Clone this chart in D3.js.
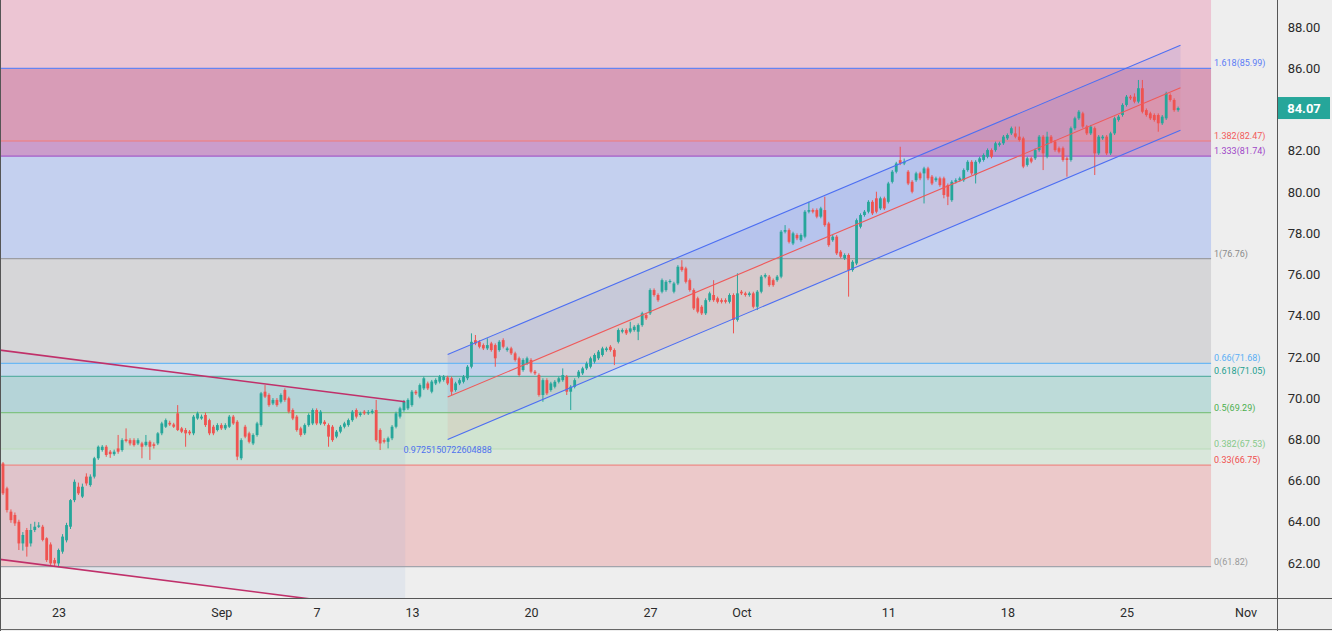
<!DOCTYPE html>
<html><head><meta charset="utf-8">
<script src="https://cdn.jsdelivr.net/npm/d3@7"></script>
<style>
html,body{margin:0;padding:0;background:#eeeeee;}
svg{display:block;font-family:Roboto,"Liberation Sans",sans-serif;}
</style></head>
<body><svg id="chart" width="1332" height="631"></svg>
<script>
// ---------------- DATA ----------------
const opens=[66.83,65.62,64.49,64.33,64.00,62.95,63.60,62.95,63.60,63.76,
63.76,63.20,62.90,62.14,61.98,62.55,63.10,63.76,65.05,65.70,
65.22,66.19,65.78,66.19,67.08,67.48,67.64,67.40,67.28,67.56,
67.48,68.00,67.96,67.96,67.80,67.80,67.72,67.88,67.76,67.80,
68.29,68.61,68.80,68.72,69.26,68.53,68.45,68.37,68.29,69.01,
69.01,69.18,68.93,68.61,68.45,68.69,68.53,68.61,69.10,68.85,
67.08,68.61,68.29,67.80,68.21,68.69,70.31,70.15,69.74,69.91,
69.82,70.39,69.99,69.42,69.10,68.53,68.29,68.69,68.77,69.42,
68.77,68.85,68.69,68.61,68.13,68.37,68.61,68.69,68.93,69.42,
69.18,69.34,69.26,69.30,69.42,68.45,67.96,67.88,68.05,68.61,
69.10,69.42,69.50,69.66,70.31,70.07,70.47,70.71,70.31,70.71,
70.80,70.88,71.00,70.96,70.39,70.71,70.79,70.96,71.52,72.81,
72.73,72.57,72.41,72.65,72.57,72.33,72.81,72.33,72.41,72.17,
71.93,71.36,71.68,71.85,71.28,71.12,70.15,70.87,70.39,70.55,
70.79,70.87,71.04,70.31,70.55,71.04,71.20,71.44,71.52,71.77,
71.93,72.09,72.33,72.49,72.33,72.73,73.22,73.30,73.22,73.30,
73.22,73.54,74.03,74.11,75.24,75.00,75.16,75.24,75.64,75.16,
75.56,76.37,76.29,75.72,75.24,74.84,74.43,74.11,74.75,75.00,
74.84,74.75,74.75,74.67,75.00,73.79,75.16,75.08,75.00,75.08,
74.43,75.16,75.89,75.89,75.72,75.72,75.89,78.07,78.15,77.50,
77.91,77.66,77.83,79.04,79.12,79.12,78.80,79.12,78.47,77.66,
77.83,77.10,76.78,76.94,76.21,76.53,78.31,78.88,79.04,79.52,
79.69,79.20,79.69,79.52,80.49,80.98,81.54,81.38,80.98,80.49,
80.57,80.90,80.90,81.14,80.74,80.57,80.66,80.66,80.33,79.60,
80.49,80.57,80.57,81.06,81.46,80.82,81.46,81.55,81.71,82.03,
82.03,82.28,82.36,82.60,82.84,82.84,82.68,82.60,81.31,81.63,
81.63,82.03,82.68,81.71,82.68,82.44,82.12,82.12,81.63,81.55,
83.09,83.57,83.81,83.17,82.84,83.09,81.87,82.60,82.68,81.87,
82.84,83.49,83.73,84.22,84.62,84.62,84.38,85.03,83.97,83.81,
83.73,83.73,83.33,83.57,84.70,84.46,83.97];
const highs=[66.90,65.70,64.60,64.45,64.10,63.50,63.70,63.90,64.00,63.98,
63.85,63.25,63.00,62.25,62.70,63.40,63.95,65.10,66.05,65.90,
65.85,66.35,66.30,67.15,67.70,67.72,67.72,67.48,67.50,68.21,
68.05,68.53,68.05,68.05,68.05,67.88,68.21,67.95,67.85,68.35,
68.85,69.01,68.90,68.80,69.66,68.60,68.55,68.45,69.18,69.34,
69.20,69.30,69.00,68.70,68.78,68.78,68.78,69.18,69.18,68.93,
68.05,68.70,68.37,68.29,68.85,70.30,70.63,70.23,70.00,70.00,
70.23,70.47,70.07,69.50,69.18,68.61,68.77,69.26,69.50,69.50,
69.42,68.93,68.77,68.69,68.45,68.69,68.85,69.01,69.42,69.50,
69.34,69.42,69.42,69.46,69.91,68.53,68.05,68.13,68.69,69.34,
69.58,69.91,69.99,70.39,70.39,70.71,71.04,70.80,70.88,70.96,
71.12,71.12,71.08,71.04,70.79,70.96,71.12,71.60,73.14,73.06,
72.81,72.65,72.90,72.73,72.65,72.81,72.90,72.49,72.49,72.25,
72.01,71.93,72.01,71.93,71.36,71.20,70.96,70.96,70.79,70.87,
71.04,71.44,71.12,70.63,70.96,71.36,71.52,71.77,72.01,72.17,
72.33,72.49,72.49,72.57,72.41,73.38,73.38,73.38,73.70,73.54,
73.62,74.19,74.11,75.32,75.32,75.08,75.80,75.72,75.76,75.64,
76.45,76.69,76.37,75.80,75.32,74.92,74.51,74.84,75.16,75.72,
74.92,74.84,74.84,75.08,75.08,76.05,75.24,75.16,75.16,75.16,
75.24,75.97,76.05,75.97,75.80,75.97,78.15,78.39,78.23,78.07,
77.99,77.99,79.12,79.52,79.20,79.20,79.28,79.77,78.55,77.91,
77.91,77.18,77.02,77.02,76.69,78.71,78.96,79.12,79.60,79.60,
80.01,79.77,79.77,80.49,81.06,81.46,82.19,81.62,81.06,80.57,
80.98,80.98,81.22,81.22,80.82,80.74,80.74,80.74,80.41,80.57,
80.66,80.74,81.14,81.54,81.54,81.54,81.71,81.87,82.11,82.11,
82.44,82.44,82.76,82.84,83.17,83.17,83.17,82.68,81.71,81.71,
82.11,82.76,82.76,82.92,82.76,82.52,82.20,82.20,81.71,83.17,
83.65,83.97,83.89,83.25,83.25,83.17,82.76,82.76,82.76,82.92,
83.65,83.73,84.30,84.70,84.70,84.78,85.43,85.43,84.05,83.89,
83.81,83.81,83.73,84.86,84.78,84.54,84.14];
const lows=[65.30,64.45,63.95,63.80,62.63,62.60,62.31,62.80,63.50,63.70,
63.05,62.05,61.90,61.82,61.82,62.45,63.00,63.65,64.95,65.30,
65.15,65.75,65.70,66.10,67.00,67.40,67.15,67.10,67.20,67.30,
67.40,67.85,67.70,67.65,67.72,67.08,67.65,67.00,67.55,67.72,
68.20,68.55,68.65,68.55,68.40,68.30,67.64,68.20,68.20,68.95,
68.95,68.60,68.20,68.20,68.38,68.45,68.45,68.55,68.70,66.99,
66.99,68.05,67.80,67.72,68.13,68.61,70.00,69.58,69.66,69.58,
69.74,69.82,69.26,68.93,68.37,68.13,68.21,68.61,68.69,68.69,
68.69,68.66,67.64,67.88,68.05,68.29,68.53,68.61,68.85,69.01,
69.10,69.18,69.18,69.22,67.88,67.48,67.80,67.56,67.96,68.53,
69.01,69.34,69.42,69.58,70.15,69.99,70.39,70.39,70.23,70.63,
70.71,70.80,70.63,70.15,70.31,70.63,70.71,70.87,71.44,72.57,
72.41,72.33,72.33,72.25,71.52,72.25,72.41,72.25,72.09,71.77,
71.04,71.28,71.60,71.20,71.12,70.07,69.82,70.15,70.31,70.47,
70.71,70.79,70.15,69.42,70.47,70.96,71.12,71.36,71.44,71.68,
71.85,72.01,72.25,72.25,71.60,72.65,73.14,73.06,73.14,73.22,
72.81,73.46,73.79,74.03,74.92,74.67,75.08,75.16,75.56,75.08,
75.48,76.13,75.56,75.16,74.27,74.11,74.03,74.03,74.67,74.67,
74.59,74.59,74.59,74.59,73.14,73.71,75.00,74.92,74.92,74.35,
74.27,75.08,75.81,75.40,75.40,75.64,75.81,77.99,77.50,77.42,
77.66,77.58,77.75,78.96,78.96,78.72,78.72,78.31,77.34,77.58,
76.94,76.78,76.70,74.92,76.13,76.45,78.23,78.80,78.96,78.88,
78.96,79.12,79.12,79.44,80.41,80.90,81.30,81.30,80.33,79.93,
80.49,80.57,79.44,80.57,80.33,80.49,80.25,79.69,79.36,79.52,
80.41,80.49,80.49,80.98,80.82,80.41,81.38,81.47,81.63,81.63,
81.95,82.20,82.28,82.52,82.76,82.60,82.44,81.15,81.23,81.39,
81.55,81.95,81.06,81.63,82.36,81.95,81.87,81.47,80.74,81.47,
83.01,83.49,83.09,82.76,82.76,80.82,81.79,82.52,81.79,81.79,
82.76,83.41,83.65,84.14,84.46,84.30,84.30,83.81,83.65,83.49,
83.41,82.92,83.25,83.49,84.38,83.89,83.89];
const closes=[65.38,64.57,64.08,63.92,62.95,63.36,62.79,63.60,63.76,63.82,
63.12,62.14,61.98,61.98,62.63,63.28,63.84,65.05,65.94,65.38,
65.70,65.86,66.19,67.08,67.64,67.64,67.24,67.28,67.40,67.40,
67.96,67.92,67.80,67.72,67.96,67.64,67.88,67.64,67.68,68.29,
68.77,68.93,68.72,68.61,68.45,68.37,68.29,68.29,69.10,69.26,
69.10,68.69,68.29,68.29,68.69,68.53,68.69,69.10,68.77,67.16,
67.96,68.13,67.88,68.21,68.77,70.23,70.07,69.66,69.91,69.66,
70.15,69.91,69.34,69.01,68.45,68.21,68.69,69.18,69.42,68.77,
69.34,68.74,68.13,67.96,68.37,68.61,68.77,68.93,69.34,69.10,
69.26,69.26,69.32,69.38,67.96,67.80,67.88,68.05,68.61,69.26,
69.50,69.82,69.91,70.31,70.23,70.63,70.96,70.47,70.80,70.88,
71.04,71.04,70.71,70.31,70.71,70.87,71.04,71.52,72.73,72.65,
72.49,72.41,72.57,72.33,71.93,72.73,72.49,72.41,72.17,71.85,
71.12,71.85,71.93,71.28,71.20,70.15,70.87,70.23,70.71,70.79,
70.96,71.12,70.31,70.55,70.87,71.28,71.44,71.68,71.93,72.09,
72.25,72.41,72.41,72.33,72.01,73.30,73.30,73.14,73.38,73.46,
73.54,74.11,73.87,75.24,75.00,74.75,75.72,75.64,75.68,75.56,
76.37,76.21,75.64,75.24,74.35,74.19,74.11,74.75,75.08,74.75,
74.67,74.67,74.67,75.00,73.79,75.08,75.08,75.00,75.08,74.43,
75.16,75.89,75.97,75.48,75.48,75.89,78.07,78.15,77.58,77.99,
77.75,77.91,79.04,79.12,79.04,78.80,79.20,78.39,77.42,77.83,
77.02,76.86,76.94,76.21,76.61,78.63,78.88,79.04,79.52,78.96,
79.04,79.69,79.20,80.41,80.98,81.38,81.38,81.46,80.41,80.01,
80.90,80.66,81.14,80.66,80.41,80.66,80.33,79.85,79.77,80.49,
80.57,80.66,81.06,81.46,80.90,81.46,81.63,81.79,82.03,81.71,
82.36,82.36,82.68,82.76,83.09,82.68,82.52,81.23,81.63,81.47,
82.03,82.68,81.87,82.68,82.44,82.03,81.95,81.55,81.55,83.09,
83.57,83.89,83.17,82.84,83.17,81.87,82.68,82.68,81.87,82.84,
83.57,83.65,84.22,84.62,84.54,84.38,85.03,83.89,83.73,83.57,
83.49,83.33,83.65,84.78,84.46,83.97,84.07];

const dateTickIndex=[14,55,79,103,133,163,186,223,253,283,313];
const dateTickLabel=["23","Sep","7","13","20","27","Oct","11","18","25","Nov"];
const priceTicks=[62,64,66,68,70,72,74,76,78,80,82,84,86,88];
const lastPrice=84.07;

const fibLevels=["0","0.33","0.382","0.5","0.618","0.66","1","1.333","1.382","1.618","2.618"];
const fibPrices=[61.82,66.75,67.53,69.29,71.05,71.68,76.76,81.74,82.47,85.99,100.93];
const fibEndIndex=304.3;
const fibLineColors=["#a2a4ac","#ee8a86","#b9dcba","#80c283","#5eb1a6","#6cb8f4","#9c9da2","#a45cc9","#f07a7a","#6584f2","#6584f2"];
const fibTextColors=["#9a9a9a","#f04f4f","#86c98a","#4caf50","#22a08f","#5aaef5","#8a8a8a","#9e45c8","#f25b5b","#5b7cf6","#5b7cf6"];
const fibFillColors=["#ecc9ca","#d9e7db","#d0e4d1","#bddbd9","#cfe0ee","#d6d6d8","#c4d0ef","#cb9dcb","#d89cb7","#ecc5d3"];

const regIdx=[112,296.6];
const regMid=[70.05,85.05];
const regDev=2.06;
const pearsonR="0.9725150722604888";

const descIdx=[-5,101.3];
const descUpper=[72.43,69.82];
const descLower=[62.28,59.67];

// ---------------- CHART ----------------
const W=1332,H=631,plotR=1277,plotB=598;
const x=d3.scaleLinear().domain([0,313]).range([3,1245.6]);
const y=d3.scaleLinear().domain([62,88]).range([563,27]);
const svg=d3.select("#chart");

svg.append("rect").attr("width",W).attr("height",H).attr("fill","#eeeeee");
svg.append("defs").append("clipPath").attr("id","plotclip")
  .append("rect").attr("x",0).attr("y",0).attr("width",plotR).attr("height",plotB);
const plot=svg.append("g").attr("clip-path","url(#plotclip)");

// fib zones
const zones=d3.range(fibPrices.length-1).map(k=>({lo:fibPrices[k],hi:fibPrices[k+1],c:fibFillColors[k]}));
plot.selectAll("rect.zone").data(zones).join("rect").attr("class","zone")
  .attr("x",x(-20)).attr("width",x(fibEndIndex)-x(-20))
  .attr("y",d=>y(d.hi)).attr("height",d=>y(d.lo)-y(d.hi)).attr("fill",d=>d.c);

// descending channel fill
const descArea=[
  [x(descIdx[0]),y(descUpper[0])],[x(descIdx[1]),y(descUpper[1])],
  [x(descIdx[1]),y(descLower[1])],[x(descIdx[0]),y(descLower[0])]];
plot.append("path").attr("d","M"+descArea.join("L")+"Z").attr("fill","rgba(120,160,215,0.10)");

// regression channel fills
const up=regMid.map(v=>v+regDev), dn=regMid.map(v=>v-regDev);
plot.append("path").attr("d","M"+[[x(regIdx[0]),y(up[0])],[x(regIdx[1]),y(up[1])],[x(regIdx[1]),y(regMid[1])],[x(regIdx[0]),y(regMid[0])]].join("L")+"Z")
  .attr("fill","rgba(80,100,230,0.11)");
plot.append("path").attr("d","M"+[[x(regIdx[0]),y(regMid[0])],[x(regIdx[1]),y(regMid[1])],[x(regIdx[1]),y(dn[1])],[x(regIdx[0]),y(dn[0])]].join("L")+"Z")
  .attr("fill","rgba(235,90,90,0.09)");

// fib lines
plot.selectAll("line.fib").data(fibPrices).join("line").attr("class","fib")
  .attr("x1",x(-20)).attr("x2",x(fibEndIndex)).attr("y1",d=>y(d)).attr("y2",d=>y(d))
  .attr("stroke",(d,i)=>fibLineColors[i]).attr("stroke-width",1.2);

// candles
const idx=d3.range(closes.length);
const cg=plot.append("g");
const col=i=>closes[i]>=opens[i]?"#26a69a":"#ef5350";
cg.selectAll("line.wick").data(idx).join("line").attr("class","wick")
  .attr("x1",i=>x(i)).attr("x2",i=>x(i))
  .attr("y1",i=>y(highs[i])).attr("y2",i=>y(lows[i]))
  .attr("stroke",col).attr("stroke-width",1);
cg.selectAll("rect.body").data(idx).join("rect").attr("class","body")
  .attr("x",i=>x(i)-1.4).attr("width",2.8)
  .attr("y",i=>y(Math.max(opens[i],closes[i])))
  .attr("height",i=>Math.max(1,Math.abs(y(opens[i])-y(closes[i]))))
  .attr("fill",col);

// regression channel lines
[[up,"#4d6ff2"],[dn,"#4d6ff2"],[regMid,"#ef5a5a"]].forEach(([v,c])=>{
  plot.append("line").attr("x1",x(regIdx[0])).attr("x2",x(regIdx[1]))
    .attr("y1",y(v[0])).attr("y2",y(v[1])).attr("stroke",c).attr("stroke-width",1.1);
});
plot.append("text").attr("x",x(regIdx[0])).attr("y",y(dn[0])+13)
  .attr("text-anchor","middle").attr("font-size",9).attr("fill","#4f72ee").text(pearsonR);

// descending channel lines
[descUpper,descLower].forEach(v=>{
  plot.append("line").attr("x1",x(descIdx[0])).attr("x2",x(descIdx[1]))
    .attr("y1",y(v[0])).attr("y2",y(v[1])).attr("stroke","#c0306a").attr("stroke-width",1.6);
});

// fib labels
svg.selectAll("text.fibl").data(fibPrices).join("text").attr("class","fibl")
  .attr("x",x(fibEndIndex)+3).attr("y",d=>y(d)-2)
  .attr("font-size",9).attr("fill",(d,i)=>fibTextColors[i])
  .text((d,i)=>fibLevels[i]+"("+d.toFixed(2)+")")
  .style("display",d=>y(d)<0?"none":null);

// axes
const yAxis=d3.axisRight(y).tickValues(priceTicks).tickFormat(d3.format(".2f")).tickSize(0).tickPadding(0);
const ga=svg.append("g").attr("transform",`translate(${plotR},0)`).call(yAxis);
ga.select(".domain").remove();
ga.selectAll("text").attr("x",W-plotR-28).attr("text-anchor","middle")
  .attr("font-size",13).attr("fill","#2a2a2a").attr("font-family","Roboto,sans-serif");

const xAxis=d3.axisBottom(x).tickValues(dateTickIndex).tickFormat((d,i)=>dateTickLabel[i]).tickSize(0).tickPadding(0);
const gx=svg.append("g").attr("transform",`translate(0,${plotB})`).call(xAxis);
gx.select(".domain").remove();
gx.selectAll("text").attr("y",10).attr("dy","0.71em").attr("font-size",12.5)
  .attr("fill","#2a2a2a").attr("font-family","Roboto,sans-serif");

// frame lines
svg.append("line").attr("x1",plotR+0.5).attr("x2",plotR+0.5).attr("y1",0).attr("y2",H).attr("stroke","#555").attr("stroke-width",1);
svg.append("line").attr("x1",0).attr("x2",W).attr("y1",plotB+0.5).attr("y2",plotB+0.5).attr("stroke","#555").attr("stroke-width",1);
svg.append("line").attr("x1",0.5).attr("x2",0.5).attr("y1",0).attr("y2",H).attr("stroke","#555").attr("stroke-width",1);
svg.append("line").attr("x1",0).attr("x2",W).attr("y1",H-1.5).attr("y2",H-1.5).attr("stroke","#666").attr("stroke-width",1);

// last price label
svg.append("rect").attr("x",plotR+1).attr("y",y(lastPrice)-11).attr("width",W-plotR-3).attr("height",22).attr("fill","#26a69a");
svg.append("text").attr("x",W-28).attr("y",y(lastPrice)).attr("dy","0.36em").attr("text-anchor","middle")
  .attr("font-size",13).attr("font-weight","bold").attr("fill","#ffffff").text(lastPrice.toFixed(2));
</script></body></html>
